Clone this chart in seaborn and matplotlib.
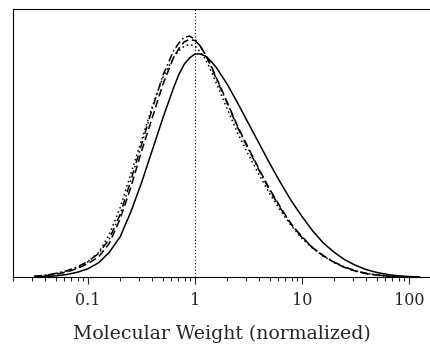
import pandas as pd
import matplotlib
matplotlib.use('Agg')
import matplotlib.pyplot as plt
import matplotlib.ticker as mticker
import seaborn as sns

# molecular weight grid (normalized), 0.1 decade steps, finer around the peak
mw = [0.0316, 0.0398, 0.0501, 0.0631, 0.0794, 0.1, 0.126, 0.158, 0.2, 0.251,
      0.316, 0.398, 0.501, 0.631, 0.708, 0.794, 0.891, 1.0, 1.12, 1.26,
      1.41, 1.58, 2.0, 2.51,
      3.16, 3.98, 5.01, 6.31, 7.94, 10.0, 12.6, 15.8, 20.0, 25.1,
      31.6, 39.8, 50.1, 63.1, 79.4, 100.0, 126.0]

solid = [0.0, 0.002, 0.005, 0.011, 0.021, 0.037, 0.064, 0.11, 0.18, 0.29,
         0.42, 0.565, 0.71, 0.845, 0.905, 0.95, 0.978, 0.995, 0.995, 0.985,
         0.963, 0.935, 0.86, 0.775,
         0.685, 0.595, 0.505, 0.42, 0.34, 0.27, 0.205, 0.152, 0.11, 0.077,
         0.052, 0.033, 0.02, 0.011, 0.005, 0.002, 0.0]

dashed = [0.002, 0.006, 0.012, 0.022, 0.038, 0.06, 0.09, 0.15, 0.26, 0.40,
          0.56, 0.71, 0.86, 0.98, 1.02, 1.05, 1.06, 1.055, 1.03, 0.99,
          0.945, 0.89, 0.78, 0.67,
          0.575, 0.48, 0.39, 0.31, 0.235, 0.18, 0.13, 0.095, 0.065, 0.042,
          0.026, 0.015, 0.008, 0.004, 0.001, 0.0, 0.0]

dashdot = [0.003, 0.008, 0.016, 0.028, 0.045, 0.07, 0.105, 0.17, 0.28, 0.43,
           0.59, 0.75, 0.90, 1.01, 1.045, 1.07, 1.075, 1.06, 1.03, 0.99,
           0.94, 0.885, 0.775, 0.665,
           0.57, 0.475, 0.385, 0.305, 0.235, 0.175, 0.13, 0.095, 0.066, 0.044,
           0.028, 0.016, 0.009, 0.004, 0.002, 0.0, 0.0]

dotted = [0.003, 0.007, 0.014, 0.025, 0.042, 0.068, 0.11, 0.19, 0.31, 0.46,
          0.61, 0.76, 0.89, 0.98, 1.01, 1.03, 1.038, 1.03, 1.005, 0.97,
          0.92, 0.865, 0.75, 0.64,
          0.545, 0.455, 0.37, 0.295, 0.228, 0.172, 0.128, 0.093, 0.065, 0.043,
          0.027, 0.016, 0.009, 0.004, 0.002, 0.0, 0.0]

series = [(solid, '-'), (dashed, (0, (5, 2.5))), (dashdot, (0, (5, 2, 1, 2))), (dotted, (0, (1, 2)))]

sns.set_style('white')
plt.rcParams['font.family'] = ['DejaVu Serif']

fig = plt.figure(figsize=(4.3, 3.5), dpi=100)
ax = fig.add_axes([0.0302, 0.2086, 0.9698, 0.7657])

for vals, ls in series:
    sns.lineplot(x=mw, y=vals, ax=ax, color='black', linestyle=ls, linewidth=1.1)

ax.axvline(1.0, color='black', linestyle=(0, (1, 2)), linewidth=0.8)

ax.set_xscale('log')
ax.set_xlim(0.0199, 157)
ax.set_ylim(0, 1.196)
ax.set_yticks([])
ax.xaxis.set_major_formatter(mticker.FuncFormatter(lambda v, p: f'{v:g}'))
ax.xaxis.set_minor_locator(mticker.LogLocator(base=10, subs=range(2, 10)))
ax.xaxis.set_minor_formatter(mticker.NullFormatter())
ax.tick_params(axis='x', which='major', direction='out', length=5, width=0.8,
               labelsize=11.5, pad=6, bottom=True)
ax.tick_params(axis='x', which='minor', direction='out', length=3, width=0.8, bottom=True)
for s in ['left', 'top', 'bottom']:
    ax.spines[s].set_color('black')
    ax.spines[s].set_linewidth(0.8)
ax.spines['right'].set_visible(False)
ax.set_xlabel('Molecular Weight (normalized)', fontsize=13.6, labelpad=11)
ax.set_ylabel('')

fig.savefig('out.png', dpi=100)
